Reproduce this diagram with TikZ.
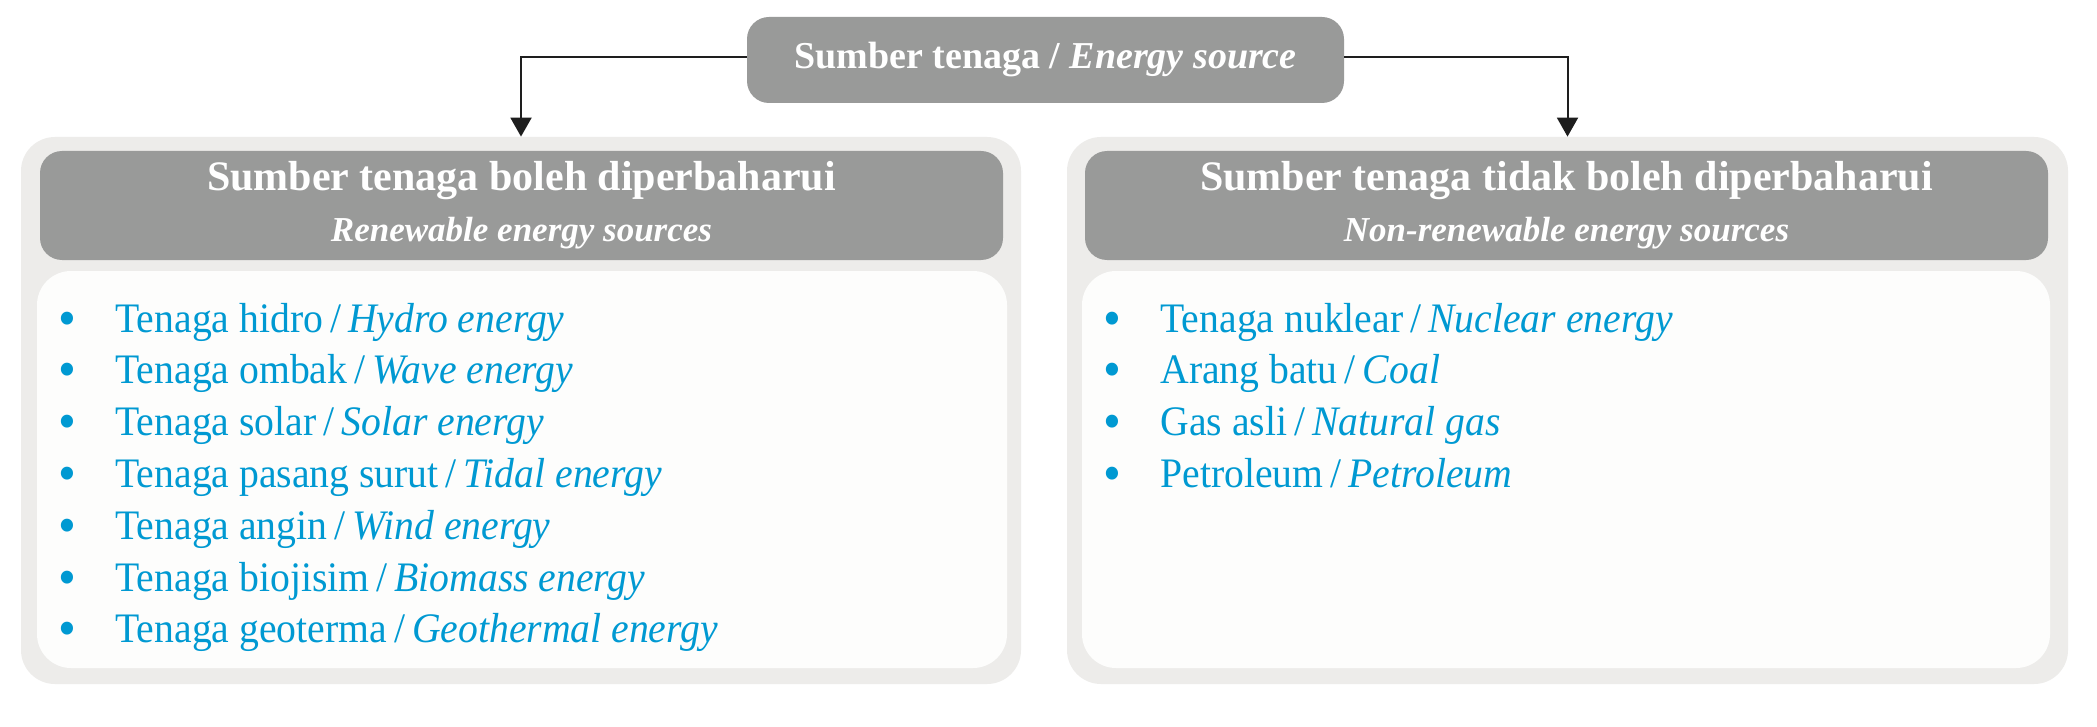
\documentclass[tikz,border=0pt]{standalone}
\usepackage{fontspec}
\setmainfont{Liberation Serif}
\newfontfamily\itemfont[FakeStretch=0.945]{Liberation Serif}
\usetikzlibrary{arrows.meta,calc}
\definecolor{hdrgray}{RGB}{153,154,153}
\definecolor{panelgray}{RGB}{237,236,234}
\definecolor{innerwhite}{RGB}{253,253,252}
\definecolor{itemblue}{RGB}{0,153,210}
\definecolor{connblack}{RGB}{30,30,30}
\newcommand{\itembullet}{\makebox[28.5pt][l]{\raisebox{-2pt}{\fontsize{27}{27}\selectfont•}}}
\begin{document}
\begin{tikzpicture}[x=0.5pt,y=-0.5pt,
  topbox/.style={fill=hdrgray,rounded corners=11pt,inner sep=0pt,
    minimum width=298.5pt,minimum height=43pt,text=white,
    font=\fontsize{19}{23}\selectfont\bfseries},
  outerpanel/.style={fill=panelgray,rounded corners=17pt,inner sep=0pt,
    minimum width=500pt,minimum height=273.5pt},
  header/.style={fill=hdrgray,rounded corners=11pt,inner sep=0pt,
    minimum width=481.5pt,minimum height=54.5pt,text=white,align=center,
    font=\fontsize{21}{25.5}\selectfont\bfseries},
  innerpanel/.style={fill=innerwhite,rounded corners=17pt,inner sep=0pt,
    minimum width=485pt,minimum height=198.5pt},
  itemtext/.style={anchor=base west,inner sep=0pt,text=itemblue,
    font=\itemfont\fontsize{21}{24}\selectfont},
  conn/.style={draw=connblack,line width=1pt,
    -{Triangle[width=10.5pt,length=9.5pt]}}
]
\useasboundingbox (0,0) rectangle (2097,727);
\fill[white] (0,0) rectangle (2097,727);

\node[topbox] (top) at (1045.5,60) {\raisebox{-2pt}{Sumber tenaga / \textit{Energy source}}};

\node[outerpanel] (louter) at (521,410.5) {};
\node[outerpanel,minimum width=500.5pt] (router) at (1567.5,410.5) {};

\node[header] (lhead) at (521.5,205.5)
  {Sumber tenaga boleh diperbaharui\\
   \fontsize{17.5}{25.5}\selectfont\itshape Renewable energy sources};
\node[header] (rhead) at (1566.5,205.5)
  {Sumber tenaga tidak boleh diperbaharui\\
   \fontsize{17.5}{25.5}\selectfont\itshape Non-renewable energy sources};

\node[innerpanel] (linner) at (522,469.5) {};
\node[innerpanel,minimum width=484pt] (rinner) at (1566,469.5) {};

\draw[conn] ([yshift=1.25pt]top.west) -| (louter.north);
\draw[conn] ([yshift=1.25pt]top.east) -| (router.north);

\foreach \a/\b [count=\i] in {Tenaga hidro/Hydro energy,
    Tenaga ombak/Wave energy,
    Tenaga solar/Solar energy,
    Tenaga pasang surut/Tidal energy,
    Tenaga angin/Wind energy,
    Tenaga biojisim/Biomass energy,
    Tenaga geoterma/Geothermal energy}
  \node[itemtext] (l\i) at (58,{332+(\i-1)*51.8})
    {\itembullet\a\,/\,\textit{\b}};

\foreach \a/\b [count=\i] in {Tenaga nuklear/Nuclear energy,
    Arang batu/Coal,
    Gas asli/Natural gas,
    Petroleum/Petroleum}
  \node[itemtext] (r\i) at (1103,{332+(\i-1)*51.8})
    {\itembullet\a\,/\,\textit{\b}};
\end{tikzpicture}
\end{document}
